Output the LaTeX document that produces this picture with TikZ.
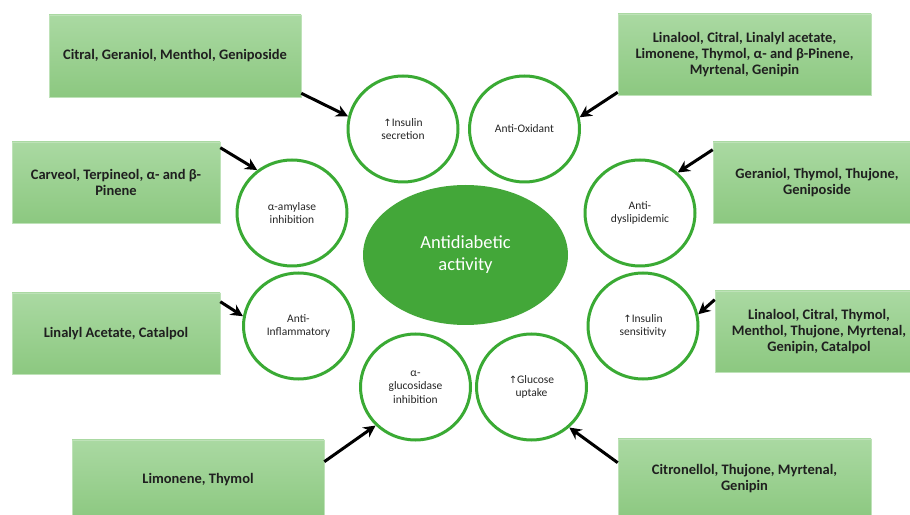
\documentclass[tikz,border=0pt]{standalone}
\usepackage{fontspec}
\setmainfont{Carlito}
\newfontfamily\arrowfont{DejaVu Sans}
\usetikzlibrary{shapes.geometric,arrows.meta}

\definecolor{boxtop}{RGB}{170,217,162}
\definecolor{boxbottom}{RGB}{140,200,128}
\definecolor{boxline}{RGB}{190,226,184}
\definecolor{ring}{RGB}{58,170,52}
\definecolor{core}{RGB}{67,167,57}
\newcommand{\uparr}{{\arrowfont\fontsize{10}{10}\selectfont ↑}}

\begin{document}
\begin{tikzpicture}[x=1pt, y=1pt,
  compound/.style={draw=boxline, line width=0.6pt, top color=boxtop, bottom color=boxbottom,
    align=center, inner sep=0pt, text=black!88, font=\fontsize{14.5}{16}\selectfont\bfseries},
  effect/.style={ellipse, draw=ring, line width=3pt, fill=white, minimum width=110pt,
    minimum height=106pt, inner sep=0pt, align=center, text=black!85,
    font=\fontsize{11.5}{13.5}\selectfont},
  link/.style={-{Stealth[length=12pt,width=12pt]}, line width=3pt}]
\useasboundingbox (0,0) rectangle (910,514);

% central activity
\path (465.5, 259) node[ellipse, fill=core, minimum width=205pt, minimum height=140pt, align=center,
  text=white, font=\fontsize{18.5}{22}\selectfont] (antidiab) {Antidiabetic\\activity};

% effects round the centre
\path (403, 385) node[effect] (insec) {\uparr Insulin\\secretion};
\path (524.5, 385) node[effect] (oxid) {Anti-Oxidant};
\path (292, 301) node[effect] (amyl) {α-amylase\\inhibition};
\path (640, 301) node[effect] (dysl) {Anti-\\dyslipidemic};
\path (298.5, 188) node[effect] (inflam) {Anti-\\Inflammatory};
\path (643, 188) node[effect] (sens) {\uparr Insulin\\sensitivity};
\path (415.5, 127) node[effect] (gluco) {α-\\glucosidase\\inhibition};
\path (531.5, 127) node[effect] (uptake) {\uparr Glucose\\uptake};

% compounds
\path (175, 458) node[compound, minimum width=252pt, minimum height=82pt] (b1) {Citral, Geraniol, Menthol, Geniposide};
\path (116, 331.5) node[compound, minimum width=208pt, minimum height=81pt] (b2) {Carveol, Terpineol, α- and β-\\Pinene};
\path (116, 180.5) node[compound, minimum width=208pt, minimum height=81pt] (b3) {Linalyl Acetate, Catalpol};
\path (198, 34) node[compound, minimum width=252pt, minimum height=80pt] (b4) {Limonene, Thymol};
\path (744.5, 459.5) node[compound, minimum width=253pt, minimum height=81pt] (b5) {Linalool, Citral, Linalyl acetate,\\Limonene, Thymol, α- and β-Pinene,\\Myrtenal, Genipin};
\path (817, 331.5) node[compound, minimum width=208pt, minimum height=81pt] (b6) {Geraniol, Thymol, Thujone,\\Geniposide};
\path (819, 182.5) node[compound, minimum width=208pt, minimum height=81pt] (b7) {Linalool, Citral, Thymol,\\Menthol, Thujone, Myrtenal,\\Genipin, Catalpol};
\path (744.5, 35) node[compound, minimum width=253pt, minimum height=80pt] (b8) {Citronellol, Thujone, Myrtenal,\\Genipin};

\draw[link] ([yshift=4pt]b1.south east) -- (insec.167);
\draw[link] ([yshift=-6pt]b2.north east) -- (amyl.129);
\draw[link] ([yshift=-9pt]b3.north east) -- (inflam.170);
\draw[link] ([yshift=-22pt]b4.north east) -- (gluco.224);
\draw[link] ([yshift=3pt]b5.south west) -- (oxid.12);
\draw[link] ([yshift=-8pt]b6.north west) -- (dysl.47);
\draw[link] ([yshift=-9pt]b7.north west) -- (sens.12);
\draw[link] ([yshift=-24pt]b8.north west) -- (uptake.-47);
\end{tikzpicture}
\end{document}
